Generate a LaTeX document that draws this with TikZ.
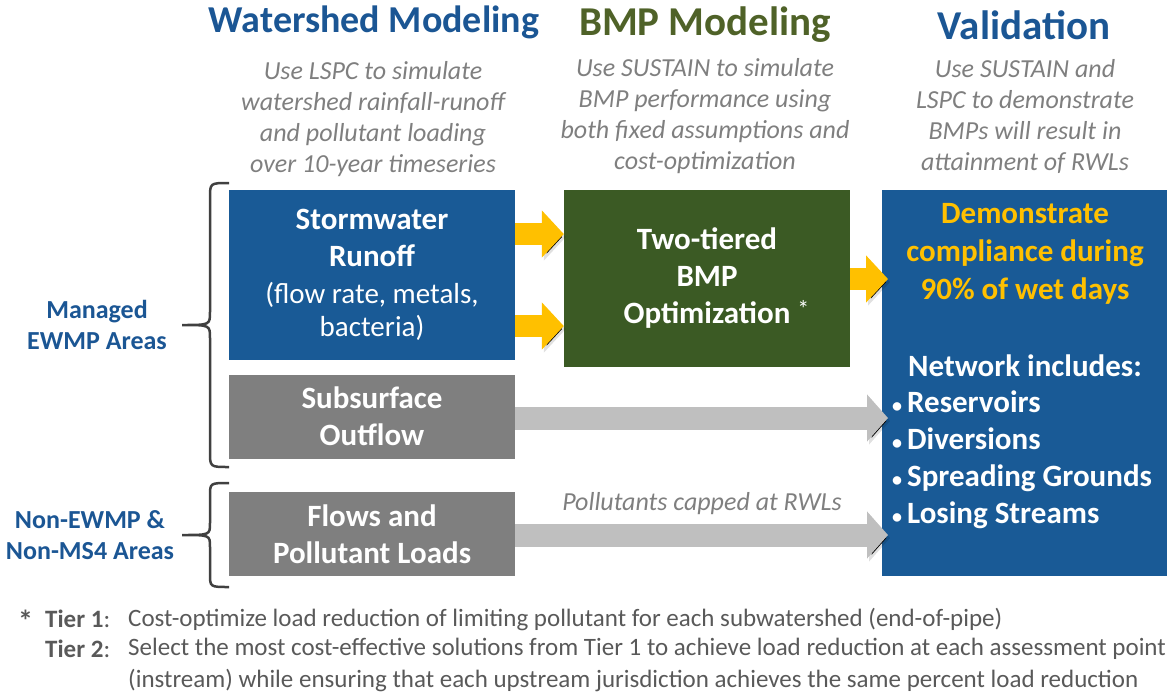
\documentclass[tikz,border=0pt]{standalone}
\usepackage{fontspec}
\setmainfont{Carlito}
\usetikzlibrary{arrows.meta}
\definecolor{titleblue}{HTML}{1B5694}
\definecolor{titlegreen}{HTML}{4F6228}
\definecolor{boxblue}{HTML}{195A96}
\definecolor{boxgreen}{HTML}{3B5A24}
\definecolor{boxgray}{HTML}{7F7F7F}
\definecolor{arrowgray}{HTML}{BFBFBF}
\definecolor{arrowyellow}{HTML}{FFC000}
\definecolor{notegray}{HTML}{7F7F7F}
\definecolor{footgray}{HTML}{595959}
\definecolor{bracegray}{HTML}{404040}
\newcommand{\blt}{{\fontsize{20}{20}\selectfont •}\hspace{5pt}}
\begin{document}
\begin{tikzpicture}[x=1pt,y=-1pt,
  box/.style={inner sep=0, align=center, text=white, font=\fontsize{31}{37}\selectfont},
  bluebox/.style={box, fill=boxblue},
  greenbox/.style={box, fill=boxgreen},
  graybox/.style={box, fill=boxgray, minimum width=286, minimum height=84},
  title/.style={font=\fontsize{41}{46}\selectfont\bfseries},
  note/.style={font=\fontsize{26}{31}\selectfont\itshape, text=notegray, align=center},
  area/.style={font=\fontsize{26}{31}\selectfont\bfseries, text=titleblue, align=center},
  foot/.style={font=\fontsize{25}{30}\selectfont, text=footgray, anchor=west, inner sep=0},
  shade/.style={preaction={draw=black, draw opacity=0.12, transform canvas={shift={(2,3)}}}},
  yarrow/.style={shade, line width=22, draw=arrowyellow, -{Triangle[length=22pt,width=46pt]}},
  garrow/.style={shade, line width=23, draw=arrowgray, -{Triangle[length=21pt,width=46pt]}},
  brace/.style={draw=bracegray, line width=2.5},
]
\useasboundingbox (0,0) rectangle (1167,694);
\node[title, text=titleblue, font=\fontsize{38}{46}\selectfont\bfseries] (t-ws) at (374,22) {Watershed Modeling};
\node[title, text=titlegreen] (t-bmp) at (705,25) {BMP Modeling};
\node[title, text=titleblue] (t-val) at (1024,25) {Validation};
\node[note] (n-ws) at (373,119) {Use LSPC to simulate\\watershed rainfall-runoff\\and pollutant loading\\over 10-year timeseries};
\node[note] (n-bmp) at (705,116) {Use SUSTAIN to simulate\\BMP performance using\\both fixed assumptions and\\cost-optimization};
\node[note] (n-val) at (1025,116) {Use SUSTAIN and\\LSPC to demonstrate\\BMPs will result in\\attainment of RWLs};

\node[bluebox, minimum width=286, minimum height=170] (storm) at (372,275) {\textbf{Stormwater}\\\textbf{Runoff}\\{\fontsize{29}{32}\selectfont (flow rate, metals,}\\[-4pt]{\fontsize{29}{32}\selectfont bacteria)}};
\node[graybox] (sub) at (372,416.5) {\textbf{Subsurface}\\\textbf{Outflow}};
\node[graybox] (flow) at (372,534) {\textbf{Flows and}\\\textbf{Pollutant Loads}};
\node[greenbox, minimum width=286, minimum height=177] (bmp) at (707,278.5) {\textbf{Two-tiered}\\\textbf{BMP}\\\textbf{Optimization}\rlap{\ \raisebox{6pt}{\fontsize{24}{24}\selectfont *}}};
\node[bluebox, minimum width=300, minimum height=386, anchor=north west] (val) at (882,190) {};
\coordinate (vin) at ([xshift=6]val.west);

\node[box, text=arrowyellow, font=\fontsize{31}{38}\selectfont\bfseries] (goal) at (1025,254) {Demonstrate\\compliance during\\90\% of wet days};
\node[box, font=\fontsize{31}{37}\selectfont\bfseries] (net) at (1025,366) {Network includes:};
\node[box, align=left, anchor=north west, font=\fontsize{31}{37}\selectfont\bfseries] (list) at (892,391) {\blt Reservoirs\\\blt Diversions\\\blt Spreading Grounds\\\blt Losing Streams};

\draw[yarrow] (storm.east |- 0,234) -- (bmp.west |- 0,234);
\draw[yarrow] (storm.east |- 0,326) -- (bmp.west |- 0,326);
\draw[yarrow] (bmp.east |- 0,279) -- (vin |- 0,279);
\draw[garrow] (sub.east |- 0,418) -- (vin |- 0,418);
\draw[garrow] (flow.east |- 0,535) -- (vin |- 0,535);
\node[note] (cap) at (702,504) {Pollutants capped at RWLs};

\draw[brace] (229,183) .. controls (210,183) .. (210,198) -- (210,312) .. controls (210,325) .. (182,325) .. controls (210,325) .. (210,338) -- (210,452) .. controls (210,467) .. (229,467);
\draw[brace] (229,483) .. controls (210,483) .. (210,496) -- (210,523) .. controls (210,535) .. (182,535) .. controls (210,535) .. (210,547) -- (210,574) .. controls (210,587) .. (229,587);
\node[area] (managed) at (97,325) {Managed\\EWMP Areas};
\node[area] (nonewmp) at (90,535) {Non-EWMP \&\\Non-MS4 Areas};

\node[foot] (star) at (18,621) {\raisebox{-5pt}{\fontsize{30}{30}\selectfont\bfseries *}};
\node[foot] (tier1) at (45,619) {\textbf{Tier 1}:};
\node[foot] (d1) at (128,619) {Cost-optimize load reduction of limiting pollutant for each subwatershed (end-of-pipe)};
\node[foot] (tier2) at (45,649) {\textbf{Tier 2}:};
\node[foot] (d2) at (128,649) {Select the most cost-effective solutions from Tier 1 to achieve load reduction at each assessment point};
\node[foot] (d3) at (128,680) {(instream) while ensuring that each upstream jurisdiction achieves the same percent load reduction};
\end{tikzpicture}
\end{document}
